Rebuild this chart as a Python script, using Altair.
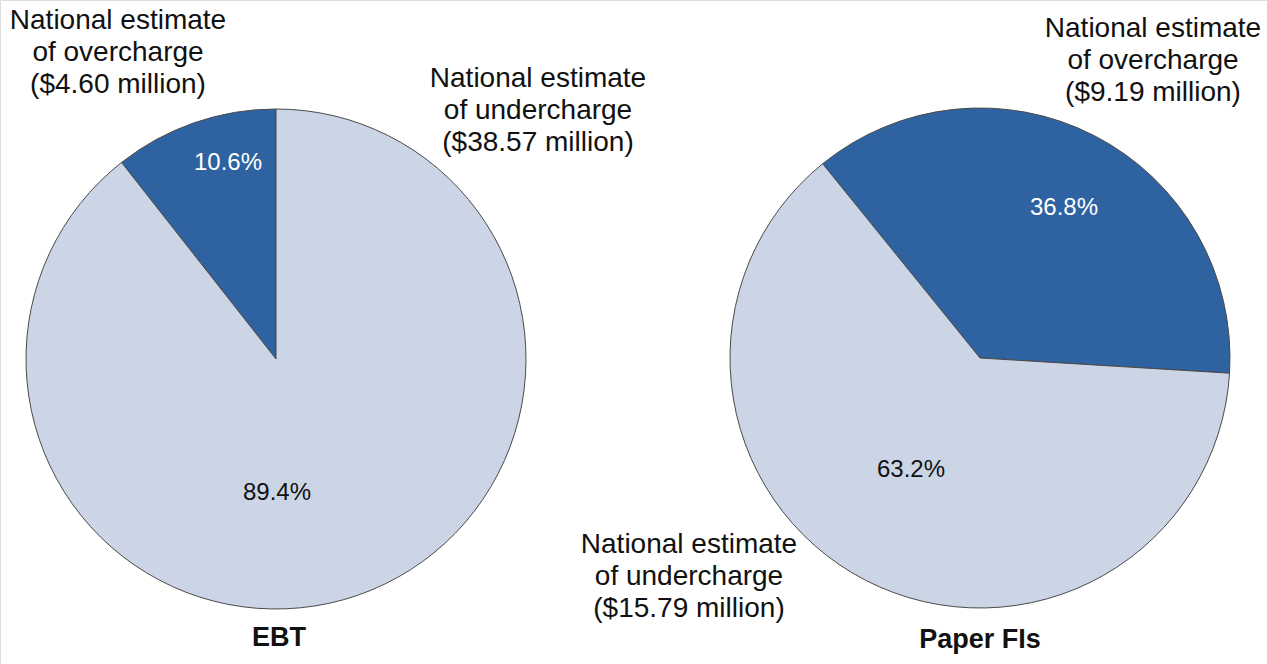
import altair as alt
import pandas as pd
import math

# ---- data ----
categories = ["overcharge", "undercharge"]
ebt_pct = [10.6, 89.4]
ebt_million = [4.60, 38.57]
paper_pct = [36.8, 63.2]
paper_million = [9.19, 15.79]
panel_titles = ["EBT", "Paper FIs"]

DARK = "#2F62A0"
LIGHT = "#CBD5E6"
FONT = "Liberation Sans"

ebt_df = pd.DataFrame({"cat": categories, "pct": ebt_pct,
                       "order": [2, 1]})
paper_df = pd.DataFrame({"cat": categories, "pct": paper_pct,
                         "order": [1, 2]})

color = alt.Color("cat:N", legend=None,
                  scale=alt.Scale(domain=categories, range=[DARK, LIGHT]))

R = 250
C1 = (276, 359)
C2 = (980, 358)

ebt_arc = alt.Chart(ebt_df).mark_arc(radius=R, stroke="#4a4a4a", strokeWidth=1).encode(
    theta=alt.Theta("pct:Q", stack=True,
                    scale=alt.Scale(range=[0, 2 * math.pi])),
    order=alt.Order("order:Q"),
    color=color,
    x=alt.value(C1[0]), y=alt.value(C1[1]),
)

start = math.radians(-39)
paper_arc = alt.Chart(paper_df).mark_arc(radius=R, stroke="#4a4a4a", strokeWidth=1).encode(
    theta=alt.Theta("pct:Q", stack=True,
                    scale=alt.Scale(range=[start, start + 2 * math.pi])),
    order=alt.Order("order:Q"),
    color=color,
    x=alt.value(C2[0]), y=alt.value(C2[1]),
)


def txt(text, x, y, size=28, fill="#111111", weight="normal"):
    return alt.Chart(pd.DataFrame({"a": [0]})).mark_text(
        font=FONT, fontSize=size, fill=fill, fontWeight=weight,
        align="center", baseline="middle", lineBreak="\n", lineHeight=32,
    ).encode(x=alt.value(x), y=alt.value(y), text=alt.value(text))


def callout(cat, amount):
    return f"National estimate\nof {cat}\n(${amount:.2f} million)"


layers = [
    ebt_arc, paper_arc,
    txt(callout(categories[0], ebt_million[0]), 118, 21),
    txt(callout(categories[1], ebt_million[1]), 538, 79),
    txt(callout(categories[0], paper_million[0]), 1153, 29),
    txt(callout(categories[1], paper_million[1]), 689, 545),
    txt(f"{ebt_pct[0]:.1f}%", 228, 163, size=24, fill="white"),
    txt(f"{ebt_pct[1]:.1f}%", 277, 493, size=24),
    txt(f"{paper_pct[0]:.1f}%", 1064, 208, size=24, fill="white"),
    txt(f"{paper_pct[1]:.1f}%", 911, 470, size=24),
    txt(panel_titles[0], 279, 638, size=27, weight="bold"),
    txt(panel_titles[1], 980, 640, size=27, weight="bold"),
]

chart = alt.layer(*layers).resolve_scale(theta="independent").properties(
    width=1267, height=664, padding=0,
    autosize=alt.AutoSizeParams(type="none"),
).configure_view(stroke=None).configure(background="white")

chart.save("out.html", embed_options={"renderer": "svg", "actions": False})
